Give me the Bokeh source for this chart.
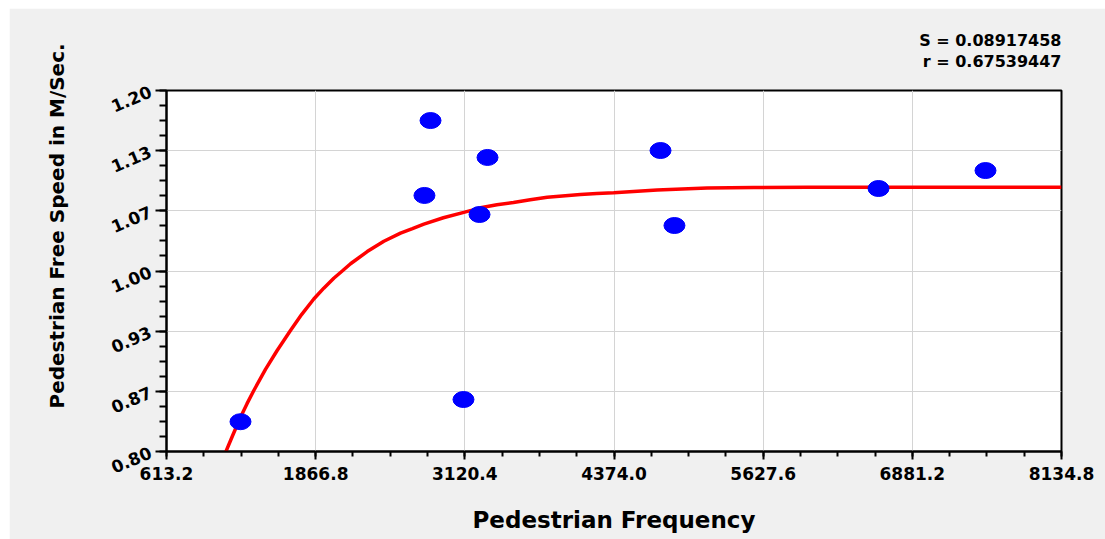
import numpy as np
from bokeh.plotting import figure
from bokeh.models import Range1d, FixedTicker, Title
from bokeh.embed import file_html
from bokeh.resources import INLINE

# Observed data points
freq = [1235, 2832, 2781, 3311, 3244, 3109, 4765, 4882, 6597, 7496]
speed = [0.833, 1.1667, 1.0837, 1.1258, 1.0626, 0.8576, 1.1335, 1.0504, 1.0914, 1.1113]

# Fitted curve
curve_x = [1100, 1170, 1235, 1290, 1347, 1445, 1543, 1655, 1750, 1851, 1935, 2019, 2090, 2160,
           2300, 2440, 2580, 2680, 2776, 2940, 3112, 3252, 3390, 3529, 3670, 3813, 4092,
           4230, 4372, 4737, 5157, 5550, 5998, 8134.8]
curve_y = [0.796, 0.818, 0.838, 0.853, 0.8676, 0.891, 0.9119, 0.934, 0.952, 0.969, 0.981, 0.992,
           1.000, 1.008, 1.0215, 1.033, 1.042, 1.047, 1.052, 1.059, 1.065, 1.070, 1.0733, 1.076,
           1.079, 1.0818, 1.0848, 1.0858, 1.0866, 1.0897, 1.092, 1.0925, 1.0928, 1.0928]

x_ticks = [613.2, 1866.8, 3120.4, 4374.0, 5627.6, 6881.2, 8134.8]
x_labels = ["613.2", "1866.8", "3120.4", "4374.0", "5627.6", "6881.2", "8134.8"]
y_ticks = [0.80, 0.866667, 0.933333, 1.00, 1.066667, 1.133333, 1.20]
y_labels = ["0.80", "0.87", "0.93", "1.00", "1.07", "1.13", "1.20"]

stats_text = ["S = 0.08917458", "r = 0.67539447"]
x_title = "Pedestrian Frequency"
y_title = "Pedestrian Free Speed in M/Sec."

FONT = "DejaVu Sans"

p = figure(width=1096, height=531, output_backend="svg", toolbar_location=None,
           x_range=Range1d(x_ticks[0], x_ticks[-1]), y_range=Range1d(y_ticks[0], y_ticks[-1]),
           min_border_left=157, min_border_right=44, min_border_top=82, min_border_bottom=88)
p.title.visible = False
p.margin = (8, 0, 0, 9)
p.border_fill_color = "#f0f0f0"
p.background_fill_color = "white"
p.outline_line_color = "black"
p.outline_line_width = 2

x_minor = list(np.linspace(x_ticks[0], x_ticks[-1], 25))
y_minor = list(np.linspace(y_ticks[0], y_ticks[-1], 25))
p.xaxis.ticker = FixedTicker(ticks=x_ticks, minor_ticks=x_minor)
p.yaxis.ticker = FixedTicker(ticks=y_ticks, minor_ticks=y_minor)
p.xaxis.major_label_overrides = {t: l for t, l in zip(x_ticks, x_labels)}
p.yaxis.major_label_overrides = {t: l for t, l in zip(y_ticks, y_labels)}

for ax in (p.xaxis[0], p.yaxis[0]):
    ax.axis_line_color = "black"
    ax.axis_line_width = 2
    ax.major_tick_line_color = "black"
    ax.major_tick_line_width = 2
    ax.minor_tick_line_color = "black"
    ax.minor_tick_line_width = 2
    ax.major_tick_in = 0
    ax.minor_tick_in = 0
    ax.major_label_text_font = FONT
    ax.major_label_text_font_style = "bold"
    ax.major_label_text_font_size = "17px"
    ax.major_label_text_color = "black"

p.xaxis.major_tick_out = 8
p.xaxis.minor_tick_out = 5
p.yaxis.major_tick_out = 11
p.yaxis.minor_tick_out = 7
p.xaxis.major_label_standoff = 7
p.yaxis.major_label_standoff = 5
p.yaxis.major_label_orientation = 0.4

p.xaxis.axis_label = x_title
p.xaxis.axis_label_text_font = FONT
p.xaxis.axis_label_text_font_style = "bold"
p.xaxis.axis_label_text_font_size = "23px"
p.xaxis.axis_label_text_color = "black"
p.xaxis.axis_label_standoff = 24

p.xgrid.grid_line_color = "#d4d4d4"
p.ygrid.grid_line_color = "#d4d4d4"
p.xgrid.grid_line_width = 1
p.ygrid.grid_line_width = 1

p.line(curve_x, curve_y, line_color="#ff0000", line_width=3.5)
p.ellipse(freq, speed, width=21, height=16, width_units="screen", height_units="screen",
          fill_color="#0000ff", line_color="#0000ff")

ytitle = Title(text=y_title, align="left", offset=43, text_font=FONT,
               text_font_style="bold", text_font_size="20px", text_color="black",
               padding=dict(left=0, right=0, top=0, bottom=30))
p.add_layout(ytitle, "left")

stats = Title(text="\n".join(stats_text), align="right", text_font=FONT,
              text_font_style="bold", text_font_size="16px", text_color="black",
              text_line_height=1.13,
              padding=dict(left=0, right=0, top=0, bottom=14))
if "text_align" in Title.properties():
    stats.text_align = "right"
p.add_layout(stats, "above")

open("out.html", "w").write(file_html(p, INLINE))
